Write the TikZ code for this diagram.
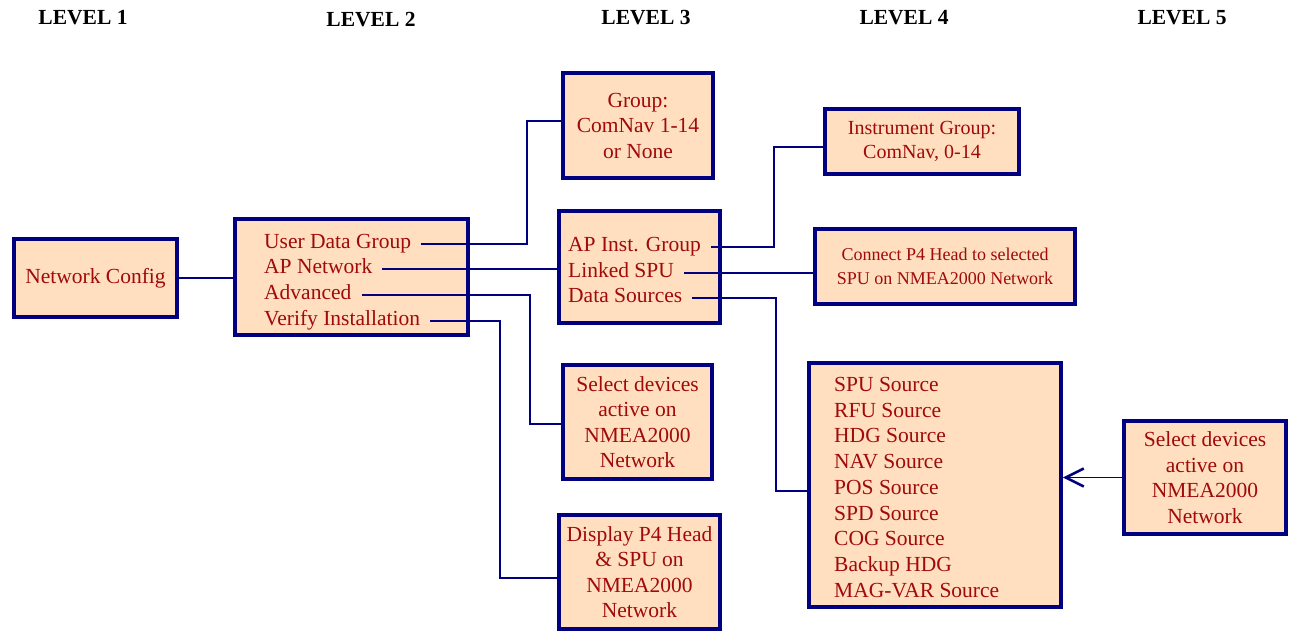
\documentclass[tikz,border=0pt]{standalone}
\usepackage{fontspec}
\setmainfont{Liberation Serif}
\usepackage{tikz}
\usetikzlibrary{arrows.meta}
\definecolor{boxfill}{RGB}{255,223,192}
\definecolor{boxline}{RGB}{0,0,128}
\definecolor{boxtext}{RGB}{160,10,10}
\tikzset{
	menubox/.style={draw=boxline,line width=3.8pt,fill=boxfill,text=boxtext,align=center,inner sep=0pt,font=\fontsize{21.5}{25.5}\selectfont},
	menuitem/.style={text=boxtext,anchor=west,inner xsep=10pt,inner ysep=0pt,text height=14pt,text depth=5pt,font=\fontsize{21.5}{25.5}\selectfont},
	link/.style={draw=boxline,line width=1.4pt},
	levelhead/.style={font=\bfseries\fontsize{21.5}{25}\selectfont}
}

\begin{document}
\begin{tikzpicture}[x=1pt,y=-1pt]
	\useasboundingbox (0,0) rectangle (1294,633);
	% headings
	\node[levelhead] (lv1) at (83,18) {LEVEL 1};
	\node[levelhead] (lv2) at (371,20) {LEVEL 2};
	\node[levelhead] (lv3) at (646,18) {LEVEL 3};
	\node[levelhead] (lv4) at (904,18) {LEVEL 4};
	\node[levelhead] (lv5) at (1182,18) {LEVEL 5};
	% level 1 and 2
	\node[menubox,minimum width=163pt,minimum height=78pt] (nc) at (95.5,278) {Network Config};
	\node[menubox,minimum width=233pt,minimum height=116pt] (l2) at (351.5,277) {};
	\node[menuitem] (udg) at (254,244) {User Data Group};
	\node[menuitem] (apn) at (254,269) {AP Network};
	\node[menuitem] (adv) at (254,295) {Advanced};
	\node[menuitem] (ver) at (254,321) {Verify Installation};
	% level 3
	\node[menubox,minimum width=150pt,minimum height=105pt] (grp) at (638,125.5) {Group:\\ComNav 1-14\\or None};
	\node[menubox,minimum width=161pt,minimum height=112pt] (l3) at (639.5,267) {};
	\node[menuitem] (api) at (558,247) {AP Inst. Group};
	\node[menuitem] (lspu) at (558,273) {Linked SPU};
	\node[menuitem] (dsrc) at (558,298) {Data Sources};
	\node[menubox,minimum width=149pt,minimum height=114pt] (sel3) at (637.5,422) {Select devices\\active on\\NMEA2000\\Network};
	\node[menubox,minimum width=161pt,minimum height=114pt] (disp) at (639.5,572) {Display P4 Head\\\& SPU on\\NMEA2000\\Network};
	% level 4
	\node[menubox,minimum width=194pt,minimum height=65pt,font=\fontsize{20}{24}\selectfont] (inst) at (922,141.5) {Instrument Group:\\ComNav, 0-14};
	\node[menubox,minimum width=260pt,minimum height=75pt,font=\fontsize{18}{24}\selectfont] (conn) at (945,266.5) {Connect P4 Head to selected\\SPU on NMEA2000 Network};
	\node[menubox,minimum width=252pt,minimum height=244pt] (src) at (935,485) {};
	\node[menuitem] (s1) at (824,387) {SPU Source};
	\node[menuitem] (s2) at (824,413) {RFU Source};
	\node[menuitem] (s3) at (824,438) {HDG Source};
	\node[menuitem] (s4) at (824,464) {NAV Source};
	\node[menuitem] (s5) at (824,490) {POS Source};
	\node[menuitem] (s6) at (824,516) {SPD Source};
	\node[menuitem] (s7) at (824,541) {COG Source};
	\node[menuitem] (s8) at (824,567) {Backup HDG};
	\node[menuitem] (s9) at (824,593) {MAG-VAR Source};
	% level 5
	\node[menubox,minimum width=162pt,minimum height=113pt] (sel5) at (1205,477.5) {Select devices\\active on\\NMEA2000\\Network};
	% connectors
	\coordinate (j1) at (527,121);
	\coordinate (j2) at (530,424);
	\coordinate (j3) at (500,578);
	\coordinate (j4) at (774,147);
	\coordinate (j5) at (776,491);
	\draw[link] (nc) -- (nc -| l2.west);
	\draw[link] (udg.east) -| (j1) -- (j1 -| grp.west);
	\draw[link] (apn.east) -- (apn.east -| l3.west);
	\draw[link] (adv.east) -| (j2) -- (j2 -| sel3.west);
	\draw[link] (ver.east) -| (j3) -- (j3 -| disp.west);
	\draw[link] (api.east) -| (j4) -- (j4 -| inst.west);
	\draw[link] (lspu.east) -- (lspu.east -| conn.west);
	\draw[link] (dsrc.east) -| (j5) -- (j5 -| src.west);
	\draw[link,-{Straight Barb[length=18pt,width=18pt,line width=2.6pt]}] (sel5.west) -- (sel5.west -| src.east);
\end{tikzpicture}
\end{document}
